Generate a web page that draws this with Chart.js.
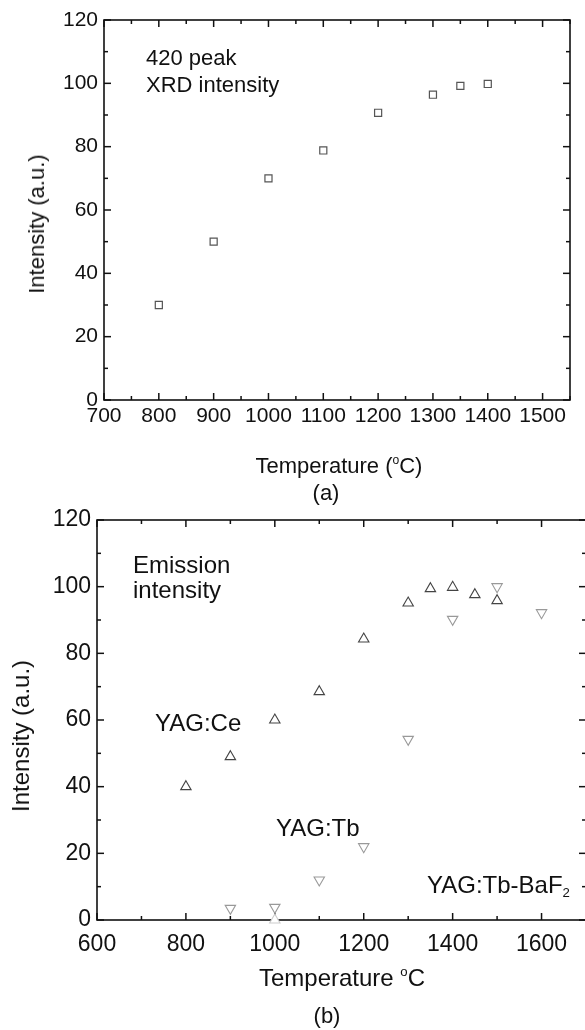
<!DOCTYPE html>
<html>
<head>
<meta charset="utf-8">
<script src="https://cdn.jsdelivr.net/npm/chart.js@4"></script>
<style>
  html, body { margin: 0; padding: 0; background: #fff; overflow: hidden; }
  body { width: 585px; height: 1030px; position: relative; font-family: "Liberation Sans", Arial, sans-serif; color: #111; }
  canvas { position: absolute; left: 0; }
  #chartA { top: 0; }
  #chartB { top: 500px; }
  .txt { position: absolute; line-height: 1; white-space: nowrap; }
  .c { transform: translate(-50%, -50%); }
  .r { transform: translate(-50%, -50%) rotate(-90deg); }
  .f22 { font-size: 22px; }
  .f24 { font-size: 24px; }
  sup { font-size: 0.55em; vertical-align: 0.75em; line-height: 0; }
  sub { font-size: 0.55em; vertical-align: -0.3em; line-height: 0; }
</style>
</head>
<body>
<canvas id="chartA" width="600" height="480"></canvas>
<canvas id="chartB" width="600" height="500"></canvas>

<div class="txt f22" style="left:146px;top:47px">420 peak</div>
<div class="txt f22" style="left:146px;top:74px">XRD intensity</div>
<div class="txt f22 r" style="left:37px;top:224px">Intensity (a.u.)</div>
<div class="txt f22 c" style="left:339px;top:466px">Temperature (<sup>o</sup>C)</div>
<div class="txt f22 c" style="left:326px;top:493px">(a)</div>

<div class="txt f24" style="left:133px;top:553px">Emission</div>
<div class="txt f24" style="left:133px;top:578px">intensity</div>
<div class="txt f24" style="left:155px;top:711px">YAG:Ce</div>
<div class="txt f24" style="left:276px;top:816px">YAG:Tb</div>
<div class="txt f24" style="left:427px;top:873px">YAG:Tb-BaF<sub>2</sub></div>
<div class="txt f24 r" style="left:21px;top:736px">Intensity (a.u.)</div>
<div class="txt f24 c" style="left:342px;top:978px">Temperature <sup>o</sup>C</div>
<div class="txt f22 c" style="left:327px;top:1016px">(b)</div>

<script>
// (a) 420 peak XRD intensity
const tempA = [800, 900, 1000, 1100, 1200, 1300, 1350, 1400];
const xrdA = [30, 50, 70, 78.8, 90.7, 96.4, 99.2, 99.8];

// (b) emission intensity
const tempCe = [800, 900, 1000, 1100, 1200, 1300, 1350, 1400, 1450, 1500];
const yagCe = [40, 49, 60, 68.5, 84.3, 95.1, 99.4, 99.8, 97.6, 95.8];
const tempTb = [900, 1000, 1100, 1200, 1300, 1400, 1500, 1600];
const yagTb = [3.5, 3.8, 12, 22, 54.2, 90.2, 100, 92.2];
const tempTbBa = [1000];
const yagTbBa = [0];

const FONT = '"Liberation Sans", Arial, sans-serif';

const pts = (xs, ys) => xs.map((x, i) => ({ x: x, y: ys[i] }));

// box frame with inward major/minor ticks on all four sides
const frameTicks = {
    id: 'frameTicks',
    beforeDatasetsDraw(chart, args, o) {
        const { ctx, chartArea: a, scales: { x, y } } = chart;
        ctx.save();
        ctx.strokeStyle = '#111';
        ctx.lineWidth = 1.6;
        ctx.strokeRect(a.left, a.top, a.right - a.left, a.bottom - a.top);
        ctx.lineWidth = 1.5;
        const line = (x1, y1, x2, y2) => {
            ctx.beginPath(); ctx.moveTo(x1, y1); ctx.lineTo(x2, y2); ctx.stroke();
        };
        for (let v = x.min; v <= x.max + 1e-6; v += o.xMinor) {
            const len = ((v - x.min) % o.xMajor) === 0 ? 7 : 4;
            const px = x.getPixelForValue(v);
            line(px, a.bottom, px, a.bottom - len);
            line(px, a.top, px, a.top + len);
        }
        for (let v = y.min; v <= y.max + 1e-6; v += o.yMinor) {
            const len = ((v - y.min) % o.yMajor) === 0 ? 7 : 4;
            const py = y.getPixelForValue(v);
            line(a.left, py, a.left + len, py);
            line(a.right, py, a.right - len, py);
        }
        ctx.restore();
    }
};

function makeAxes(cfg) {
    return {
        x: {
            type: 'linear', min: cfg.xMin, max: cfg.xMax,
            grid: { display: false, drawTicks: false }, border: { display: false },
            ticks: { stepSize: cfg.xStep, includeBounds: false, autoSkip: false, maxRotation: 0,
                padding: cfg.xPad, color: '#111', font: { family: FONT, size: cfg.tickSize },
                callback: v => String(v) },
            afterFit: s => { s.height = cfg.xHeight; }
        },
        y: {
            min: 0, max: 120,
            grid: { display: false, drawTicks: false }, border: { display: false },
            ticks: { stepSize: 20, padding: cfg.yPad, color: '#111', font: { family: FONT, size: cfg.tickSize } },
            afterFit: s => { s.width = cfg.yWidth; }
        }
    };
}

new Chart(document.getElementById('chartA'), {
    type: 'scatter',
    data: {
        datasets: [{
            label: '420 peak XRD intensity',
            data: pts(tempA, xrdA),
            pointStyle: 'rect', pointRadius: 5, pointBorderWidth: 1.2,
            borderColor: '#555', backgroundColor: '#fff', clip: false
        }]
    },
    options: {
        responsive: false, animation: false,
        layout: { padding: { top: 20, right: 30, left: 0, bottom: 0 } },
        plugins: {
            legend: { display: false }, tooltip: { enabled: false },
            frameTicks: { xMajor: 100, xMinor: 50, yMajor: 20, yMinor: 10 }
        },
        scales: makeAxes({ xMin: 700, xMax: 1550, xStep: 100, xPad: 4, xHeight: 80, yPad: 6, yWidth: 104,
            tickSize: 21 })
    },
    plugins: [frameTicks]
});

new Chart(document.getElementById('chartB'), {
    type: 'scatter',
    data: {
        datasets: [{
            label: 'YAG:Ce',
            data: pts(tempCe, yagCe),
            pointStyle: 'triangle', pointRadius: 6, pointBorderWidth: 1.1,
            borderColor: '#444', backgroundColor: '#fff', clip: false
        }, {
            label: 'YAG:Tb',
            data: pts(tempTb, yagTb),
            pointStyle: 'triangle', pointRotation: 180, pointRadius: 6, pointBorderWidth: 1.1,
            borderColor: '#999', backgroundColor: '#fff', clip: false
        }, {
            label: 'YAG:Tb-BaF2',
            data: pts(tempTbBa, yagTbBa),
            pointStyle: 'triangle', pointRadius: 6, pointBorderWidth: 1.1,
            borderColor: '#ccc', backgroundColor: '#fff', clip: false
        }]
    },
    options: {
        responsive: false, animation: false,
        layout: { padding: { top: 20, right: 14, left: 0, bottom: 0 } },
        plugins: {
            legend: { display: false }, tooltip: { enabled: false },
            frameTicks: { xMajor: 200, xMinor: 100, yMajor: 20, yMinor: 10 }
        },
        scales: makeAxes({ xMin: 600, xMax: 1700, xStep: 200, xPad: 11, xHeight: 80, yPad: 6, yWidth: 97,
            tickSize: 23 })
    },
    plugins: [frameTicks]
});
</script>
</body>
</html>
